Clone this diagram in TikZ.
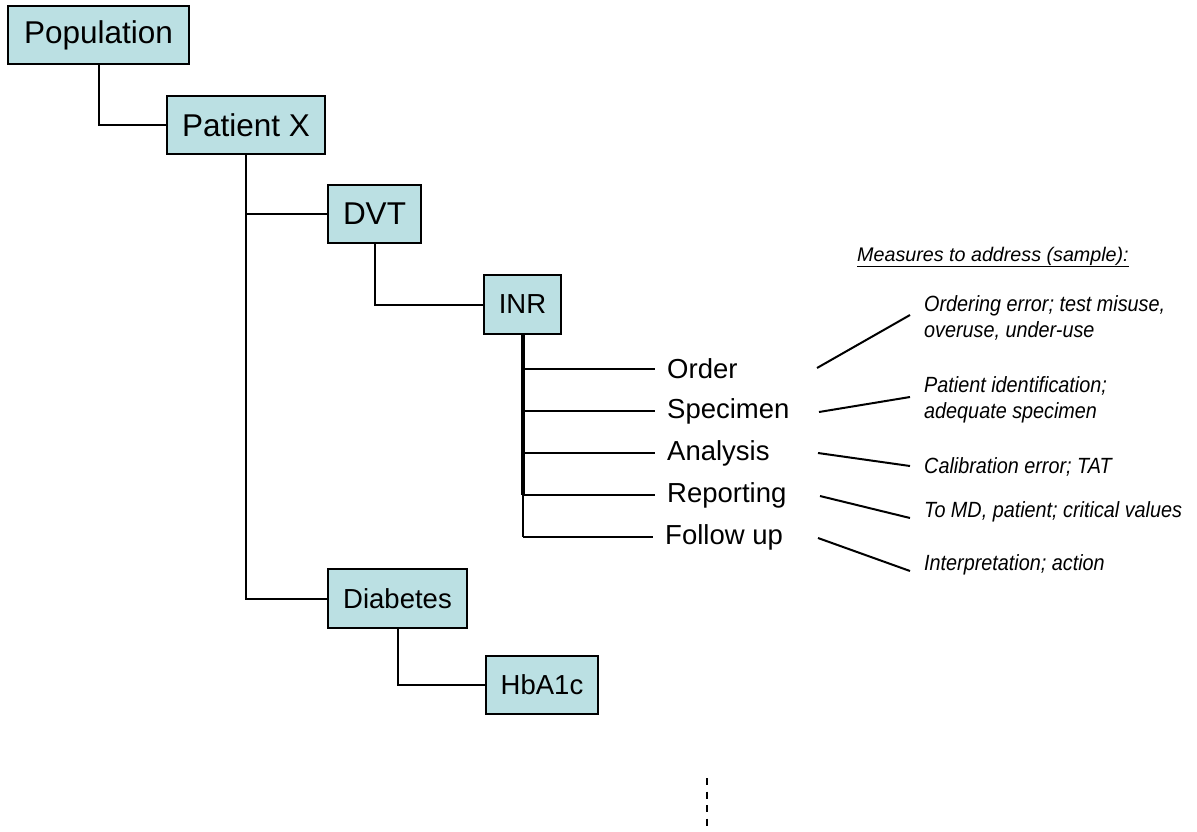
\documentclass[tikz,border=0pt]{standalone}
\usepackage{fontspec}
\setmainfont{Liberation Sans}
\newfontfamily\narrowfont[FakeStretch=0.9]{Liberation Sans}
\definecolor{boxfill}{HTML}{BBE0E3}
\tikzset{
  box/.style={draw=black, line width=2pt, fill=boxfill, inner sep=0pt},
  bigtxt/.style={font=\fontsize{31.5}{36}\selectfont},
  midtxt/.style={font=\fontsize{27.5}{32}\selectfont},
  conn/.style={line width=2pt},
  trunk/.style={line width=4pt},
  steplbl/.style={anchor=west, inner xsep=12pt, inner ysep=0pt, font=\fontsize{27.5}{30}\selectfont},
  meas/.style={anchor=base west, inner sep=0pt, align=left, font=\narrowfont\itshape\fontsize{22}{26}\selectfont},
  mline/.style={line width=2pt}
}
\begin{document}
\begin{tikzpicture}[x=1pt,y=-1pt]
\useasboundingbox (0,0) rectangle (1197,831);
% boxes
\node[box, bigtxt, minimum width=181pt, minimum height=58pt] (pop) at (98.5,35) {Population};
\node[box, bigtxt, minimum width=158pt, minimum height=58pt] (pat) at (246,125) {Patient X};
\node[box, bigtxt, minimum width=93pt, minimum height=58pt] (dvt) at (374.5,214) {DVT};
\node[box, midtxt, minimum width=77pt, minimum height=59pt] (inr) at (522.5,304.5) {INR};
\node[box, midtxt, minimum width=139pt, minimum height=59pt] (dia) at (397.5,598.5) {Diabetes};
\node[box, midtxt, minimum width=112pt, minimum height=58pt] (hba) at (542,685) {HbA1c};
% tree connectors
\draw[conn] (pop.south) |- (pat.west);
\draw[conn] (pat.south) |- (dvt.west);
\draw[conn] (pat.south) |- (dia.west);
\draw[conn] (dvt.south) |- (inr.west);
\draw[conn] (dia.south) |- (hba.west);
% steps
\node[steplbl] (ord) at (655,369) {Order};
\node[steplbl] (spe) at (655,411) {Specimen};
\node[steplbl] (ana) at (655,453) {Analysis};
\node[steplbl] (rep) at (655,495) {Reporting};
\node[steplbl] (fol) at (653,537) {Follow up};
\draw[trunk] (inr.south) -- (inr.south |- rep.west);
\draw[conn] (inr.south |- rep.west) -- (inr.south |- fol.west);
\draw[conn] (inr.south |- ord.west) -- (ord.west);
\draw[conn] (inr.south |- spe.west) -- (spe.west);
\draw[conn] (inr.south |- ana.west) -- (ana.west);
\draw[conn] (inr.south |- rep.west) -- (rep.west);
\draw[conn] (inr.south |- fol.west) -- (fol.west);
% heading
\node[anchor=base west, inner sep=0pt, font=\itshape\fontsize{19.7}{24}\selectfont] (head) at (857,261) {\underline{Measures to address (sample):}};
% measures
\node[meas] (m1) at (924,337) {Ordering error; test misuse,\\overuse, under-use};
\node[meas] (m2) at (924,418) {Patient identification;\\adequate specimen};
\node[meas] (m3) at (924,473) {Calibration error; TAT};
\node[meas] (m4) at (924,517) {To MD, patient; critical values};
\node[meas] (m5) at (924,570) {Interpretation; action};
% measure lines
\coordinate (a1) at (817,368); \coordinate (b1) at (910,315);
\coordinate (a2) at (819,412); \coordinate (b2) at (910,397);
\coordinate (a3) at (818,453); \coordinate (b3) at (910,466);
\coordinate (a4) at (820,496); \coordinate (b4) at (910,518);
\coordinate (a5) at (818,538); \coordinate (b5) at (910,571);
\draw[mline] (a1) -- (b1);
\draw[mline] (a2) -- (b2);
\draw[mline] (a3) -- (b3);
\draw[mline] (a4) -- (b4);
\draw[mline] (a5) -- (b5);
% dashed line
\coordinate (d1) at (707,778); \coordinate (d2) at (707,828);
\draw[line width=2pt, dash pattern=on 7pt off 6.5pt] (d1) -- (d2);
\end{tikzpicture}
\end{document}
